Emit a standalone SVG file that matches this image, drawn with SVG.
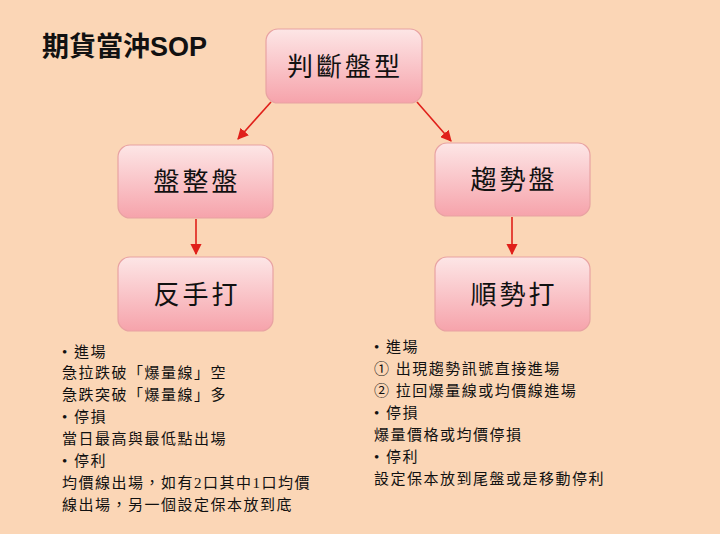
<svg xmlns="http://www.w3.org/2000/svg" width="720" height="534" viewBox="0 0 720 534">
<defs>
<linearGradient id="g" x1="0" y1="0" x2="0" y2="1"><stop offset="0" stop-color="#fde6e6"/><stop offset="1" stop-color="#f6a3ab"/></linearGradient>
<marker id="a" viewBox="0 0 10 10" refX="9" refY="5" markerWidth="7" markerHeight="7" orient="auto"><path d="M0,0L10,5L0,10z" fill="#e0201a"/></marker>
<style>
.n{fill:url(#g);stroke:#e8a2a2;stroke-width:1.2}
.nt{font-family:"Liberation Serif","Noto Sans CJK TC",serif;font-size:26px;text-anchor:middle;fill:#111;letter-spacing:3px}
.c{stroke:#e0201a;stroke-width:1.6;fill:none;marker-end:url(#a)}
.t{font-family:"Liberation Serif","Noto Sans CJK TC",serif;font-size:15px;fill:#111;letter-spacing:1.5px}
</style>
</defs>
<rect width="720" height="534" fill="#fbd6b6"/>
<text x="42" y="56" font-family="'Liberation Sans','Noto Sans CJK TC',sans-serif" font-size="27" font-weight="bold" fill="#111">期貨當沖SOP</text>
<g id="connectors">
<line class="c" x1="271" y1="102" x2="238" y2="139"/>
<line class="c" x1="417" y1="102" x2="451" y2="141"/>
<line class="c" x1="196" y1="219" x2="196" y2="254"/>
<line class="c" x1="512" y1="217" x2="512" y2="254"/>
</g>
<g id="n1"><rect class="n" x="266" y="29" width="156" height="74" rx="12"/><text class="nt" x="345" y="76">判斷盤型</text></g>
<g id="n2"><rect class="n" x="118" y="145" width="155" height="73" rx="12"/><text class="nt" x="197" y="191">盤整盤</text></g>
<g id="n3"><rect class="n" x="435" y="143" width="155" height="73" rx="12"/><text class="nt" x="514" y="189">趨勢盤</text></g>
<g id="n4"><rect class="n" x="118" y="257" width="155" height="74" rx="12"/><text class="nt" x="197" y="304">反手打</text></g>
<g id="n5"><rect class="n" x="435" y="257" width="155" height="74" rx="12"/><text class="nt" x="514" y="304">順勢打</text></g>
<g id="left">
<text class="t" x="62" y="357">•  進場</text>
<text class="t" x="62" y="378">急拉跌破「爆量線」空</text>
<text class="t" x="62" y="400">急跌突破「爆量線」多</text>
<text class="t" x="62" y="422">•  停損</text>
<text class="t" x="62" y="444">當日最高與最低點出場</text>
<text class="t" x="62" y="466">•  停利</text>
<text class="t" x="62" y="488">均價線出場，如有2口其中1口均價</text>
<text class="t" x="62" y="510">線出場，另一個設定保本放到底</text>
</g>
<g id="right">
<text class="t" x="374" y="352">•  進場</text>
<text class="t" x="374" y="374">①  出現趨勢訊號直接進場</text>
<text class="t" x="374" y="396">②  拉回爆量線或均價線進場</text>
<text class="t" x="374" y="418">•  停損</text>
<text class="t" x="374" y="440">爆量價格或均價停損</text>
<text class="t" x="374" y="462">•  停利</text>
<text class="t" x="374" y="484">設定保本放到尾盤或是移動停利</text>
</g>
</svg>
